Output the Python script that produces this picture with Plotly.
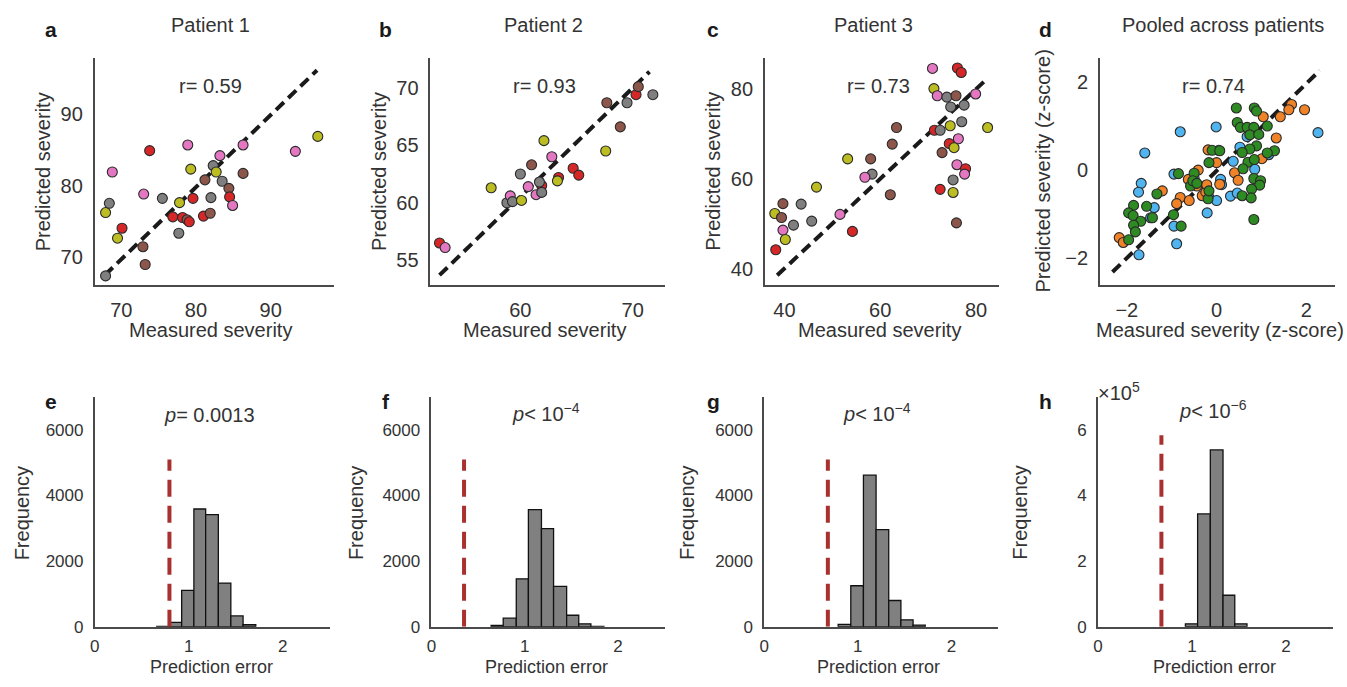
import numpy as np
import plotly.graph_objects as go
from plotly.subplots import make_subplots

W, H = 1347, 687
FONT = "Liberation Sans, Arial, Helvetica, sans-serif"
INK = "#333333"
AXIS = "#4a4a4a"

# ---------------- data: per-patient scatter (measured vs predicted) ----------------
SESSION_COLORS = ["#7f7f7f", "#bcbd22", "#e377c2", "#8c564b", "#d62728"]  # gray, olive, pink, brown, red

p1_measured = [67.9, 67.9, 68.4, 68.8, 70.1, 69.5, 72.9, 73.2, 73.0, 73.8, 75.5, 78.9, 79.3, 77.8, 76.9,
               78.2, 78.8, 79.1, 77.7, 79.6, 81.0, 81.9, 82.0, 81.2, 82.3, 82.7, 83.2, 83.5, 84.4, 84.5,
               84.9, 86.3, 86.3, 93.3, 96.3]
p1_predicted = [67.3, 76.2, 77.5, 81.9, 74.0, 72.6, 71.4, 68.9, 78.8, 84.9, 78.2, 85.7, 82.3, 77.6, 75.6,
                75.5, 75.2, 74.9, 73.3, 78.2, 75.7, 76.1, 78.3, 80.8, 82.8, 81.9, 84.2, 80.6, 79.6, 78.4,
                77.2, 85.7, 81.7, 84.8, 86.9]
p1_session = [0, 1, 0, 2, 4, 1, 3, 3, 2, 4, 0, 2, 1, 1, 4,
              4, 3, 4, 0, 4, 4, 3, 0, 3, 0, 1, 2, 0, 3, 4,
              2, 2, 3, 2, 1]

p2_measured = [52.8, 53.3, 57.4, 58.8, 59.1, 59.3, 60.1, 60.0, 61.0, 60.7, 61.4, 61.9, 61.7, 61.9,
               62.1, 62.8, 63.4, 63.3, 64.7, 65.2, 67.6, 67.7, 68.9, 69.5, 70.3, 70.5, 71.8]
p2_predicted = [56.5, 56.1, 61.3, 60.0, 60.6, 60.1, 60.2, 62.5, 63.3, 61.4, 60.7, 61.5, 61.8, 60.9,
                65.4, 64.0, 62.2, 61.9, 63.0, 62.4, 64.5, 68.7, 66.6, 68.7, 69.4, 70.1, 69.4]
p2_session = [4, 2, 1, 0, 2, 0, 1, 0, 3, 2, 2, 4, 0, 0,
              1, 2, 4, 1, 4, 4, 1, 3, 3, 0, 4, 3, 0]

p3_measured = [70.9, 76.1, 76.9, 71.2, 71.9, 73.9, 75.8, 79.9, 74.7, 77.5, 77.0, 74.6, 71.3, 72.5, 82.4,
               63.4, 62.5, 74.4, 76.3, 75.4, 72.9, 58.0, 53.2, 76.0, 77.8, 77.6, 58.3, 56.8, 75.2, 72.5,
               75.2, 62.1, 75.9, 46.7, 39.7, 43.5, 38.0, 39.4, 41.9, 45.7, 39.7, 40.2, 38.2, 51.6, 54.2]
p3_predicted = [84.7, 84.8, 83.8, 80.2, 78.6, 78.3, 78.6, 79.0, 76.1, 76.5, 72.8, 71.9, 70.9, 70.9, 71.5,
                71.5, 67.8, 67.9, 69.0, 67.0, 65.9, 64.5, 64.5, 63.2, 62.3, 61.1, 61.1, 60.4, 59.8, 57.7,
                57.0, 56.5, 50.2, 58.2, 54.5, 54.4, 52.3, 51.4, 49.7, 50.6, 48.6, 46.5, 44.2, 52.1, 48.3]
p3_session = [2, 4, 4, 1, 2, 0, 3, 2, 0, 0, 0, 1, 4, 0, 1,
              3, 3, 4, 2, 1, 3, 3, 1, 2, 4, 2, 0, 2, 0, 4,
              1, 3, 3, 1, 3, 0, 1, 3, 0, 0, 2, 1, 4, 2, 4]

# ---------------- data: pooled z-scores ----------------
POOL_COLORS = ["#4fb4f0", "#f08228", "#2e8a22"]

pool_blue_x = [-0.81, -0.01, -1.60, 2.26, -1.68, -1.74, -0.95, -1.39, -1.47, -0.95, -0.89, -1.73, -0.21,
               -0.17, 0.00, 0.09, 0.11, 0.05, 0.31, 0.46, 0.37, 0.52, 0.68, 0.85, 1.16, -0.50]
pool_blue_y = [0.86, 0.97, 0.38, 0.84, -0.31, -0.51, -0.10, -0.86, -1.09, -1.28, -1.68, -1.93, -0.98,
               -0.63, -0.70, -0.22, -0.34, 0.44, -0.60, -0.53, 0.19, 0.51, 0.75, 0.01, 0.34, -0.20]
pool_orange_x = [1.67, 1.61, 1.96, 1.42, 1.04, 1.33, 1.01, -0.19, 0.00, 0.40, 0.48, 0.07, -0.41, -0.63,
                 -1.21, -0.81, -0.89, -0.61, -0.44, -0.32, -0.24, -2.17, -2.08, -0.22]
pool_orange_y = [1.48, 1.36, 1.36, 1.20, 1.20, 0.72, 0.25, 0.45, 0.16, -0.07, -0.24, -0.33, -0.01, -0.22,
                 -0.48, -0.63, -0.77, -0.70, -0.37, -0.59, -0.51, -1.54, -1.65, -0.34]
pool_green_x = [0.44, 0.84, 0.89, 0.46, 0.53, 0.68, 0.83, 1.13, 0.74, 0.94, 0.89, 0.74, 0.57, 1.29, 1.13,
                -0.10, 0.07, -0.17, 0.70, 0.84, 0.59, 0.83, 0.98, 0.96, 0.78, 0.57, 0.77, 0.83, -0.19, -0.17,
                -0.85, -0.50, -0.58, -0.53, -0.44, -1.33, -1.56, -1.85, -1.96, -1.86, -1.69, -1.43, -1.85,
                -1.81, -1.96, -0.96, -0.79]
pool_green_y = [1.40, 1.40, 1.33, 1.07, 0.96, 0.96, 0.96, 0.99, 0.79, 0.80, 0.54, 0.47, 0.39, 0.43, 0.38,
                0.44, 0.43, 0.16, 0.17, 0.23, 0.02, -0.20, -0.25, -0.35, -0.44, -0.59, -0.64, -1.13, -0.66,
                -0.48, -0.09, -0.08, -0.37, -0.25, -0.31, -0.55, -0.83, -0.81, -0.98, -1.04, -1.17, -1.09,
                -1.26, -1.41, -1.59, -1.02, -1.28]

# reference (dashed) lines: endpoints in data units
ref_line_x = {"a": [67.8, 96.2], "b": [52.8, 71.5], "c": [38.5, 82.3], "d": [-2.32, 2.30]}
ref_line_y = {"a": [67.4, 96.2], "b": [53.7, 71.4], "c": [38.5, 82.4], "d": [-2.32, 2.25]}

r_values = {"a": "0.59", "b": "0.93", "c": "0.73", "d": "0.74"}

# ---------------- data: permutation null distributions ----------------
e_edges = [0.66, 0.795, 0.925, 1.055, 1.18, 1.315, 1.448, 1.578, 1.713]
e_counts = [10, 130, 1110, 3590, 3420, 1330, 330, 60]
f_edges = [0.64, 0.77, 0.91, 1.04, 1.18, 1.31, 1.45, 1.58, 1.71, 1.85]
f_counts = [40, 260, 1460, 3570, 2990, 1230, 350, 90, 10]
g_edges = [0.79, 0.925, 1.06, 1.195, 1.33, 1.46, 1.59, 1.72]
g_counts = [70, 1250, 4620, 2960, 800, 210, 50]
h_edges = [0.93, 1.06, 1.195, 1.33, 1.455, 1.585]
h_counts = [9000, 344000, 539000, 96000, 9000]

observed_error = {"e": 0.795, "f": 0.35, "g": 0.68, "h": 0.675}
observed_line_top = {"e": 5100, "f": 5100, "g": 5100, "h": 584000}
p_labels = {"e": "<i>p</i>= 0.0013", "f": "<i>p</i>< 10<sup>−4</sup>",
            "g": "<i>p</i>< 10<sup>−4</sup>", "h": "<i>p</i>< 10<sup>−6</sup>"}

# ---------------- figure ----------------
fig = make_subplots(rows=2, cols=4)


def add_scatter(col, xs, ys, colors, key):
    fig.add_trace(go.Scatter(
        x=ref_line_x[key], y=ref_line_y[key], mode="lines",
        line=dict(color="#1a1a1a", width=4, dash="11px,6px"), hoverinfo="skip"),
        row=1, col=col)
    fig.add_trace(go.Scatter(
        x=xs, y=ys, mode="markers",
        marker=dict(size=10, color=colors, line=dict(color="#2a2a2a", width=1.1)),
        cliponaxis=False),
        row=1, col=col)


add_scatter(1, p1_measured, p1_predicted, [SESSION_COLORS[s] for s in p1_session], "a")
add_scatter(2, p2_measured, p2_predicted, [SESSION_COLORS[s] for s in p2_session], "b")
add_scatter(3, p3_measured, p3_predicted, [SESSION_COLORS[s] for s in p3_session], "c")

pool_x = pool_blue_x + pool_orange_x + pool_green_x
pool_y = pool_blue_y + pool_orange_y + pool_green_y
pool_c = ([POOL_COLORS[0]] * len(pool_blue_x) + [POOL_COLORS[1]] * len(pool_orange_x)
          + [POOL_COLORS[2]] * len(pool_green_x))
add_scatter(4, pool_x, pool_y, pool_c, "d")


def add_hist(col, edges, counts, key):
    edges = np.asarray(edges)
    centers = (edges[:-1] + edges[1:]) / 2
    widths = np.diff(edges)
    fig.add_trace(go.Bar(
        x=centers, y=counts, width=widths,
        marker=dict(color="#808080", line=dict(color="#111111", width=1.3))),
        row=2, col=col)
    v = observed_error[key]
    fig.add_trace(go.Scatter(
        x=[v, v], y=[0, observed_line_top[key]], mode="lines",
        line=dict(color="#a8302f", width=4, dash="17px,9px"), hoverinfo="skip"),
        row=2, col=col)


add_hist(1, e_edges, e_counts, "e")
add_hist(2, f_edges, f_counts, "f")
add_hist(3, g_edges, g_counts, "g")
add_hist(4, h_edges, h_counts, "h")

# ---------------- axes ----------------
def px_x(p):
    return p / W


def px_y(p):
    return 1 - p / H


top_y = [px_y(289), px_y(59)]
bot_y = [px_y(636), px_y(403)]
top_x = [(90, 330), (427, 662), (762.7, 998), (1099, 1335)]
bot_x = [(90, 326), (428, 662), (762, 997), (1097, 1333)]

top_xrange = [[66.44, 98.44], [51.99, 72.84], [35.93, 84.84], [-2.6, 2.64]]
top_yrange = [[66.05, 97.9], [52.86, 72.58], [36.38, 87.0], [-2.61, 2.53]]
top_xticks = [[70, 80, 90], [60, 70], [40, 60, 80], [-2, 0, 2]]
top_yticks = [[70, 80, 90], [55, 60, 65, 70], [40, 60, 80], [-2, 0, 2]]


def axis_style(size):
    return dict(showline=True, linecolor=AXIS, linewidth=1.6, mirror=False,
                showgrid=False, zeroline=False, ticks="outside", tickcolor="rgba(0,0,0,0)",
                tickfont=dict(family=FONT, size=size, color=INK))


def tick_text(vals):
    return [str(v).replace("-", "−") for v in vals]


for i in range(4):
    xa = "xaxis" if i == 0 else f"xaxis{i + 1}"
    ya = "yaxis" if i == 0 else f"yaxis{i + 1}"
    fig.layout[xa].update(domain=[px_x(top_x[i][0]), px_x(top_x[i][1])], range=top_xrange[i],
                          tickvals=top_xticks[i], ticktext=tick_text(top_xticks[i]), ticklen=6,
                          **axis_style(20))
    fig.layout[ya].update(domain=top_y, range=top_yrange[i],
                          tickvals=top_yticks[i], ticktext=tick_text(top_yticks[i]), ticklen=6,
                          **axis_style(20))

hist_ymax = [7000, 7000, 7000, 700000]
for i in range(4):
    xa = f"xaxis{i + 5}"
    ya = f"yaxis{i + 5}"
    fig.layout[xa].update(domain=[px_x(bot_x[i][0]), px_x(bot_x[i][1])], range=[0, 2.5],
                          tickvals=[0, 1, 2], ticklen=3, **axis_style(17))
    if i < 3:
        yt = dict(tickvals=[0, 2000, 4000, 6000])
    else:
        yt = dict(tickvals=[0, 200000, 400000, 600000], ticktext=["0", "2", "4", "6"])
    fig.layout[ya].update(domain=bot_y, range=[0, hist_ymax[i]], ticklen=6, **yt, **axis_style(17))

# ---------------- text ----------------
ann = []


def note(text, x, y, size=20, bold=False, angle=0):
    if bold:
        text = f"<b>{text}</b>"
    ann.append(dict(text=text, x=px_x(x), y=px_y(y), xref="paper", yref="paper",
                    showarrow=False, xanchor="center", yanchor="middle", textangle=angle,
                    font=dict(family=FONT, size=size, color=INK if not bold else "#1a1a1a")))


for letter, x, y in [("a", 46, 30), ("b", 382, 30), ("c", 711, 30), ("d", 1044, 30),
                     ("e", 46, 407), ("f", 382, 407), ("g", 711, 407), ("h", 1044, 407)]:
    note(letter, x, y, size=21, bold=True)

for title, x in [("Patient 1", 206), ("Patient 2", 541), ("Patient 3", 872),
                 ("Pooled across patients", 1223)]:
    note(title, x, 25)

for key, x in [("a", 206), ("b", 542), ("c", 877), ("d", 1213)]:
    note(f"r= {r_values[key]}", x, 87.3)

for label, x in [("Measured severity", 206), ("Measured severity", 542),
                 ("Measured severity", 878), ("Measured severity (z-score)", 1220)]:
    note(label, x, 335)

for label, x in [("Predicted severity", 39), ("Predicted severity", 376),
                 ("Predicted severity", 711), ("Predicted severity (z-score)", 1042)]:
    note(label, x, 174, angle=-90)

for x in [207, 544, 877, 1214]:
    note("Prediction error", x, 677, size=18)

for x in [17, 353, 685, 1019]:
    note("Frequency", x, 520, angle=-90)

for key, x, y in [("e", 205, 421), ("f", 543, 419), ("g", 875, 419), ("h", 1213, 416)]:
    note(p_labels[key], x, y)

note("×10<sup>5</sup>", 1118, 397, size=20)

fig.update_layout(
    width=W, height=H, margin=dict(l=0, r=0, t=0, b=0),
    paper_bgcolor="white", plot_bgcolor="white",
    showlegend=False, annotations=ann,
    font=dict(family=FONT, size=20, color=INK),
)

fig.write_html("out.html")
